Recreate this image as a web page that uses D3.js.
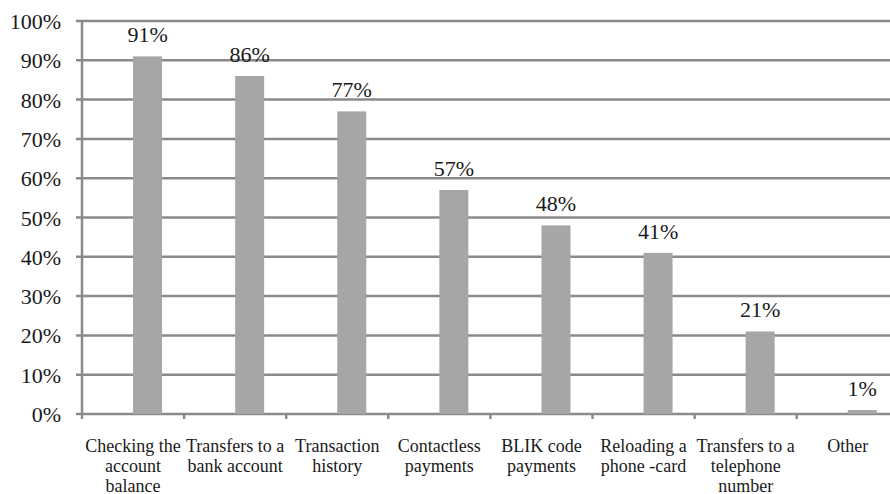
<!DOCTYPE html>
<html>
<head>
<meta charset="utf-8">
<script src="https://cdn.jsdelivr.net/npm/d3@7"></script>
<style>
  html, body { margin: 0; padding: 0; background: #ffffff; }
  svg { display: block; }
</style>
</head>
<body>
<svg id="chart" width="890" height="494"></svg>
<script>
// Mobile banking functions used by respondents (share of answers)
const categories = [
  "Checking the account balance",
  "Transfers to a bank account",
  "Transaction history",
  "Contactless payments",
  "BLIK code payments",
  "Reloading a phone -card",
  "Transfers to a telephone number",
  "Other"
];
const categoryLines = [
  ["Checking the", "account", "balance"],
  ["Transfers to a", "bank account"],
  ["Transaction", "history"],
  ["Contactless", "payments"],
  ["BLIK code", "payments"],
  ["Reloading a", "phone -card"],
  ["Transfers to a", "telephone", "number"],
  ["Other"]
];
const values = [91, 86, 77, 57, 48, 41, 21, 1];
const yTicks = [0, 10, 20, 30, 40, 50, 60, 70, 80, 90, 100];

const serif = '"Liberation Serif"';
const textColor = "#1a1a1a";

const svg = d3.select("#chart");
const W = 890;

const axisX = 82;
const plotRight = axisX + 8 * 102.1;
const y = d3.scaleLinear().domain([0, 100]).range([414, 21]);
const x = d3.scaleBand().domain(categories).range([axisX, plotRight]).padding(0);
// two slots per category: the value series sits in the right-hand slot
const slot = d3.scaleBand().domain(["blank", "value"]).range([0, x.bandwidth()]).paddingInner(0).paddingOuter(0.76);

const gridColor = "#8a8a8a";

// horizontal gridlines with small outer ticks
svg.append("g").selectAll("line").data(yTicks).join("line")
  .attr("x1", axisX - 6).attr("x2", W)
  .attr("y1", d => y(d)).attr("y2", d => y(d))
  .attr("stroke", gridColor).attr("stroke-width", 2.5);

// vertical value axis
svg.append("line")
  .attr("x1", axisX).attr("x2", axisX)
  .attr("y1", y(100) - 1).attr("y2", y(0) + 5)
  .attr("stroke", gridColor).attr("stroke-width", 2.5);

// category tick marks below the baseline
svg.append("g").selectAll("line").data(categories.slice(1)).join("line")
  .attr("x1", d => x(d)).attr("x2", d => x(d))
  .attr("y1", y(0)).attr("y2", y(0) + 5)
  .attr("stroke", gridColor).attr("stroke-width", 2.5);

// y tick labels
svg.append("g").selectAll("text").data(yTicks).join("text")
  .attr("x", 61).attr("y", d => y(d) + 8)
  .attr("text-anchor", "end")
  .style("font-family", serif)
  .style("font-size", "22px")
  .attr("fill", textColor)
  .text(d => d + "%");

// bars
const barW = slot.bandwidth();
svg.append("g").selectAll("rect").data(values).join("rect")
  .attr("x", (d, i) => x(categories[i]) + slot("value"))
  .attr("y", d => y(d))
  .attr("width", barW)
  .attr("height", d => y(0) - y(d))
  .attr("fill", "#a6a6a6");

// value labels
svg.append("g").selectAll("text").data(values).join("text")
  .attr("x", (d, i) => x(categories[i]) + slot("value") + barW / 2)
  .attr("y", d => y(d) - 14)
  .attr("text-anchor", "middle")
  .style("font-family", serif)
  .style("font-size", "22px")
  .attr("fill", textColor)
  .text(d => d + "%");

// category labels
const catG = svg.append("g").selectAll("text").data(categoryLines).join("text")
  .attr("text-anchor", "middle")
  .style("font-family", serif)
  .style("font-size", "18px")
  .attr("fill", textColor)
  .attr("transform", (d, i) => `translate(${x(categories[i]) + x.bandwidth() / 2},451.5)`);
catG.selectAll("tspan").data(d => d).join("tspan")
  .attr("x", 0)
  .attr("dy", (d, j) => j === 0 ? 0 : 20)
  .text(d => d);
</script>
</body>
</html>
